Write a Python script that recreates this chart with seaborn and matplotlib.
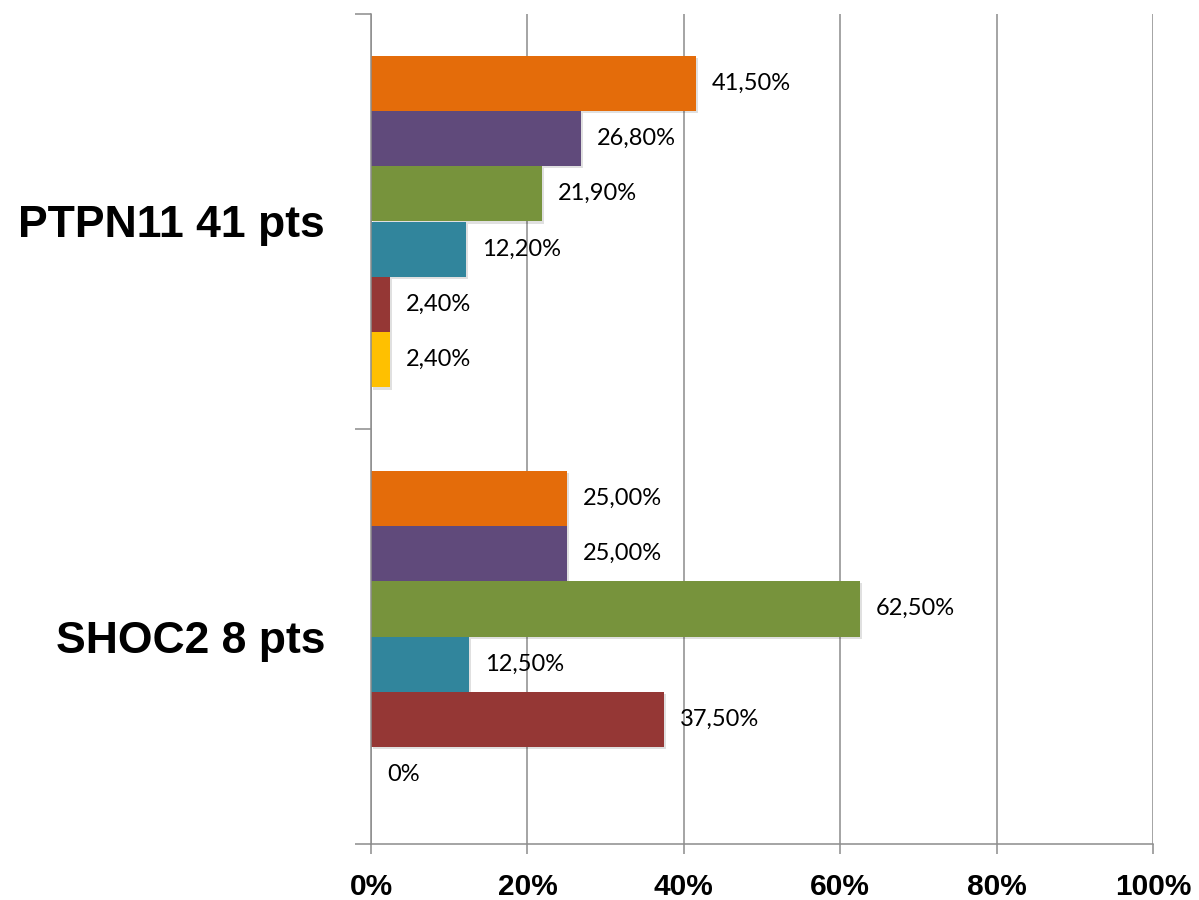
import matplotlib
matplotlib.use("Agg")
import matplotlib.pyplot as plt
import matplotlib.patheffects as pe
from matplotlib.ticker import FixedLocator, PercentFormatter
import seaborn as sns
import pandas as pd

# Data: share of patients per feature, by gene group
categories = ["PTPN11 41 pts", "SHOC2 8 pts"]
series = ["S1", "S2", "S3", "S4", "S5", "S6"]
ptpn11_values = [41.5, 26.8, 21.9, 12.2, 2.4, 2.4]
shoc2_values = [25.0, 25.0, 62.5, 12.5, 37.5, 0.0]
x_ticks = [0, 20, 40, 60, 80, 100]

colors = ["#E46C0A", "#604A7B", "#77933C", "#31859C", "#953735", "#FFC000"]

rows = []
for cat, vals in zip(categories, [ptpn11_values, shoc2_values]):
    for s, v in zip(series, vals):
        rows.append({"group": cat, "series": s, "value": v / 100.0})
df = pd.DataFrame(rows)

sns.set_theme(style="white")
plt.rcParams["font.family"] = ["Liberation Sans", "DejaVu Sans"]
plt.rcParams["text.color"] = "black"
plt.rcParams["xtick.labelcolor"] = "black"
plt.rcParams["ytick.labelcolor"] = "black"

fig = plt.figure(figsize=(11.99, 9.0), dpi=100)
ax = fig.add_axes([371 / 1199, 56 / 900, (1153 - 371) / 1199, (844 - 14) / 900])

sns.barplot(data=df, y="group", x="value", hue="series", order=categories,
            hue_order=series, palette=colors, orient="h", width=0.8,
            saturation=1, legend=False, ax=ax)

shadow = [pe.SimplePatchShadow(offset=(1.5, -1.5), alpha=0.12, shadow_rgbFace="black"), pe.Normal()]
for patch in ax.patches:
    patch.set_path_effects(shadow)
    patch.set_linewidth(0)

def fmt(v):
    pct = v * 100
    if pct == 0:
        return "0%"
    return f"{pct:.2f}".replace(".", ",") + "%"

for cont in ax.containers:
    labels = [fmt(b.get_width()) for b in cont]
    texts = ax.bar_label(cont, labels=labels, padding=11.5, fontsize=17,
                         family=["Lato", "DejaVu Sans"], color="black")

ax.set_xlim(0, 1)
ax.set_ylim(1.5, -0.5)
ax.xaxis.set_major_locator(FixedLocator([t / 100 for t in x_ticks]))
ax.xaxis.set_major_formatter(PercentFormatter(1.0, decimals=0))
ax.grid(axis="x", color="#8C8C8C", linewidth=1.1)
ax.set_axisbelow(True)
ax.set_xlabel("")
ax.set_ylabel("")

for side in ["top", "right"]:
    ax.spines[side].set_visible(False)
for side in ["left", "bottom"]:
    ax.spines[side].set_color("#8C8C8C")
    ax.spines[side].set_linewidth(1.1)

ax.tick_params(axis="x", which="major", length=7, width=1.1, color="#8C8C8C",
               pad=14, labelsize=21.5, direction="out", bottom=True)
for lbl in ax.get_xticklabels():
    lbl.set_fontweight("bold")

ax.yaxis.set_minor_locator(FixedLocator([-0.5, 0.5, 1.5]))
ax.tick_params(axis="y", which="major", length=0, pad=33, labelsize=32)
ax.tick_params(axis="y", which="minor", length=11.5, width=1.1, color="#8C8C8C",
               direction="out", left=True)
for lbl in ax.get_yticklabels():
    lbl.set_fontweight("bold")

fig.savefig("out.png", dpi=100, facecolor="white")
